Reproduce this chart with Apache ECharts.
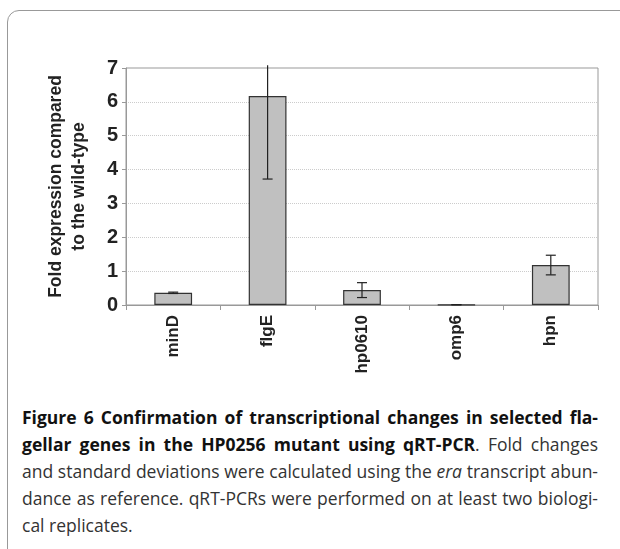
<!DOCTYPE html>
<html>
<head>
<meta charset="utf-8">
<script src="https://cdn.jsdelivr.net/npm/echarts@6/dist/echarts.min.js"></script>
<style>
  body { margin: 0; width: 620px; height: 549px; overflow: hidden; background: #fff; position: relative; }
  #frame { position: absolute; left: 7px; top: 10px; width: 660px; height: 570px; border: 1.5px solid #999; border-radius: 12px; box-sizing: border-box; }
  #chart { position: absolute; left: 0; top: 0; width: 620px; height: 400px; }
  #caption { position: absolute; left: 22px; top: 404px; width: 576px; font-family: "Open Sans", sans-serif; font-size: 17.5px; line-height: 27px; color: #333; }
  #caption b { color: #111; }
  #caption div { text-align: justify; text-align-last: justify; white-space: nowrap; }
  #caption div.last { text-align-last: left; }
</style>
</head>
<body>
<div id="frame"></div>
<div id="chart"></div>
<div id="caption">
  <div><b>Figure 6 Confirmation of transcriptional changes in selected fla-</b></div>
  <div><b>gellar genes in the HP0256 mutant using qRT-PCR</b>. Fold changes</div>
  <div>and standard deviations were calculated using the <i>era</i> transcript abun-</div>
  <div>dance as reference. qRT-PCRs were performed on at least two biologi-</div>
  <div class="last">cal replicates.</div>
</div>
<script>
var genes = ['minD', 'flgE', 'hp0610', 'omp6', 'hpn'];
var foldValues = [0.36, 6.17, 0.44, 0.01, 1.18];
var stdDevs = [0.02, 2.45, 0.22, 0, 0.29];
var yTicks = [0, 1, 2, 3, 4, 5, 6, 7];

var chart = echarts.init(document.getElementById('chart'));

var errorData = genes.map(function (g, i) {
  return [i, foldValues[i] - stdDevs[i], foldValues[i] + stdDevs[i]];
});

var option = {
  animation: false,
  grid: { left: 126, right: 22, top: 68, height: 237, show: true, borderColor: '#999', borderWidth: 1 },
  xAxis: {
    type: 'category',
    data: genes,
    axisLine: { lineStyle: { color: '#999' } },
    axisTick: { show: true, length: 5, lineStyle: { color: '#999' } },
    axisLabel: { rotate: 90, margin: 10, color: '#222', fontFamily: 'Liberation Sans, Arial, sans-serif', fontWeight: 'bold', fontSize: 17 }
  },
  yAxis: {
    type: 'value',
    min: yTicks[0],
    max: yTicks[yTicks.length - 1],
    interval: 1,
    name: 'Fold expression compared\nto the wild-type',
    nameLocation: 'middle',
    nameGap: 35,
    nameTextStyle: { color: '#222', fontFamily: 'Liberation Sans, Arial, sans-serif', fontWeight: 'bold', fontSize: 17.5, lineHeight: 23 },
    axisLine: { show: true, lineStyle: { color: '#999' } },
    axisTick: { show: true, length: 4, lineStyle: { color: '#999' } },
    axisLabel: { margin: 8, color: '#222', fontFamily: 'Liberation Sans, Arial, sans-serif', fontWeight: 'bold', fontSize: 20 },
    splitLine: { show: true, lineStyle: { color: '#ccc', type: 'dotted' } }
  },
  series: [
    {
      type: 'bar',
      data: foldValues,
      barWidth: '40%',
      itemStyle: { color: '#c0c0c0', borderColor: '#333', borderWidth: 1.2 }
    },
    {
      type: 'custom',
      data: errorData,
      clip: false,
      z: 5,
      renderItem: function (params, api) {
        var x = api.value(0);
        var lo = api.value(1);
        var hi = api.value(2);
        var clipped = hi > 7;
        var top = api.coord([x, clipped ? 7.08 : hi]);
        var bot = api.coord([x, lo]);
        var hw = 5;
        var style = { stroke: '#222', lineWidth: 1.2 };
        var children = [
          { type: 'line', shape: { x1: top[0], y1: top[1], x2: bot[0], y2: bot[1] }, style: style },
          { type: 'line', shape: { x1: bot[0] - hw, y1: bot[1], x2: bot[0] + hw, y2: bot[1] }, style: style }
        ];
        if (!clipped) {
          children.push({ type: 'line', shape: { x1: top[0] - hw, y1: top[1], x2: top[0] + hw, y2: top[1] }, style: style });
        }
        return { type: 'group', children: children };
      }
    }
  ]
};

chart.setOption(option);
</script>
</body>
</html>
